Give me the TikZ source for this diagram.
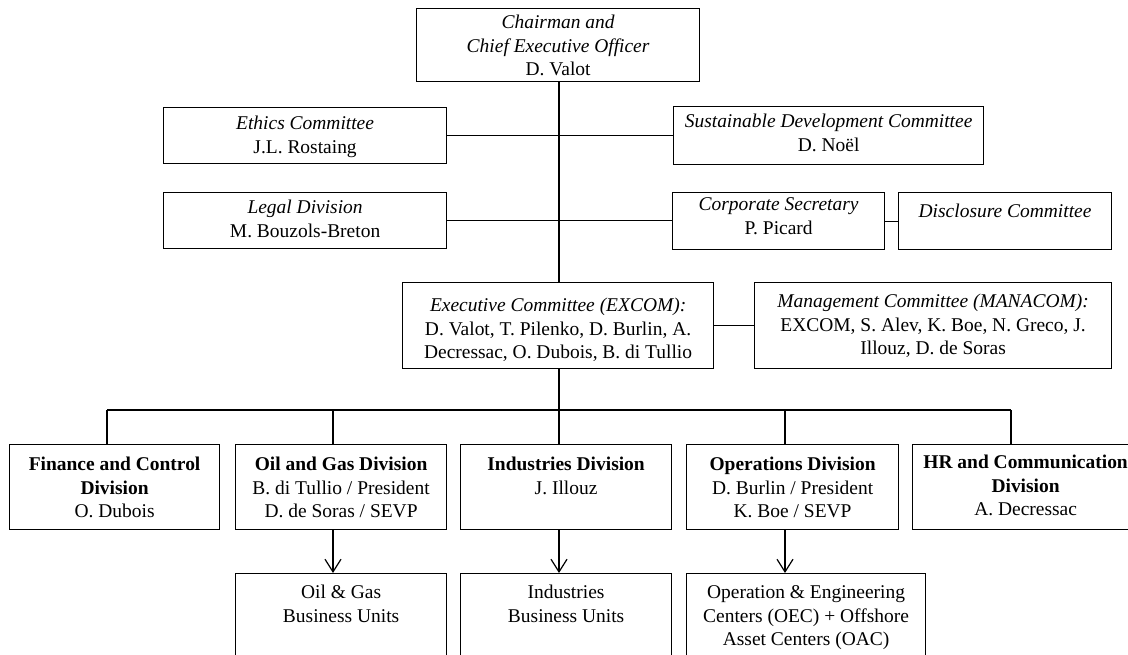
\documentclass[tikz,border=0pt]{standalone}
\usepackage{fontspec}
\setmainfont{Liberation Serif}
\usetikzlibrary{arrows.meta}
\newdimen\px
\px=0.75pt
\newcommand\bt[4]{\parbox[c][#2\px][t]{#1\px}{\centering\rule{0pt}{#3\px}#4\par}}
\begin{document}
\begin{tikzpicture}[x=0.75pt,y=-0.75pt,
  font=\fontsize{14.6}{17.7}\selectfont,
  box/.style={draw, line width=0.9pt, inner sep=0pt, anchor=north west},
  conn/.style={line width=0.9pt},
  arr/.style={line width=0.9pt, -{Straight Barb[length=9.5pt,width=12pt,line width=0.9pt]}}]
\path[use as bounding box] (0,0) rectangle (1128,654);
\clip (0,0) rectangle (1128,654);
% top section
\node[box] (ceo) at (416,8) {\bt{283}{73}{20}{\textit{Chairman and}\\\textit{Chief Executive Officer}\\D. Valot}};
\node[box] (eth) at (163,107) {\bt{283}{56}{22}{\textit{Ethics Committee}\\J.L. Rostaing}};
\node[box] (sdc) at (673,106) {\bt{310}{58}{21}{\textit{Sustainable Development Committee}\\D. Noël}};
\node[box] (legal) at (163,192) {\bt{283}{56}{21}{\textit{Legal Division}\\M. Bouzols-Breton}};
\node[box] (cs) at (672,192) {\bt{212}{57}{18}{\textit{Corporate Secretary}\\P. Picard}};
\node[box] (disc) at (898,192) {\bt{213}{57}{25}{\textit{Disclosure Committee}}};
\node[box] (ex) at (402,282) {\bt{311}{86}{29}{\textit{Executive Committee (EXCOM):}\\D. Valot, T. Pilenko, D. Burlin, A.\\Decressac, O. Dubois, B. di Tullio}};
\node[box] (man) at (754,282) {\bt{357}{86}{25}{\textit{Management Committee (MANACOM):}\\EXCOM, S. Alev, K. Boe, N. Greco, J.\\Illouz, D. de Soras}};
% divisions
\node[box] (fin) at (9,444) {\bt{210}{85}{26}{\textbf{Finance and Control}\\\textbf{Division}\\O. Dubois}};
\node[box] (oil) at (235,444) {\bt{211}{85}{26}{\textbf{Oil and Gas Division}\\B. di Tullio / President\\D. de Soras / SEVP}};
\node[box] (ind) at (460,444) {\bt{211}{85}{26}{\textbf{Industries Division}\\J. Illouz}};
\node[box] (ops) at (686,444) {\bt{212}{85}{26}{\textbf{Operations Division}\\D. Burlin / President\\K. Boe / SEVP}};
\node[box] (hr) at (912,444) {\bt{226}{85}{24}{\textbf{HR and Communication}\\\textbf{Division}\\A. Decressac}};
% business units
\node[box] (oilbu) at (235,573) {\bt{211}{100}{25}{Oil \& Gas\\Business Units}};
\node[box] (indbu) at (460,573) {\bt{211}{100}{25}{Industries\\Business Units}};
\node[box] (oec) at (686,573) {\bt{239}{100}{25}{Operation \& Engineering\\Centers (OEC) + Offshore\\Asset Centers (OAC)}};
% coordinates
\coordinate (spine) at (559,0);
\coordinate (c1) at (107,410);
\coordinate (c2) at (333,410);
\coordinate (c3) at (559,410);
\coordinate (c4) at (785,410);
\coordinate (c5) at (1011,410);
% connectors
\draw[conn] (ceo.south -| spine) -- (ex.north -| spine);
\draw[conn] (eth.east) -- (eth.east -| sdc.west);
\draw[conn] (legal.east) -- (legal.east -| cs.west);
\draw[conn] (cs.east) -- (cs.east -| disc.west);
\draw[conn] (ex.east) -- (ex.east -| man.west);
\draw[conn] (ex.south -| spine) -- (c3);
\draw[conn] (c1) -- (c5);
\draw[conn] (c1) -- (c1 |- fin.north);
\draw[conn] (c2) -- (c2 |- oil.north);
\draw[conn] (c3) -- (c3 |- ind.north);
\draw[conn] (c4) -- (c4 |- ops.north);
\draw[conn] (c5) -- (c5 |- hr.north);
\draw[arr] (oil.south -| c2) -- (oilbu.north -| c2);
\draw[arr] (ind.south -| c3) -- (indbu.north -| c3);
\draw[arr] (ops.south -| c4) -- (oec.north -| c4);
\end{tikzpicture}
\end{document}
